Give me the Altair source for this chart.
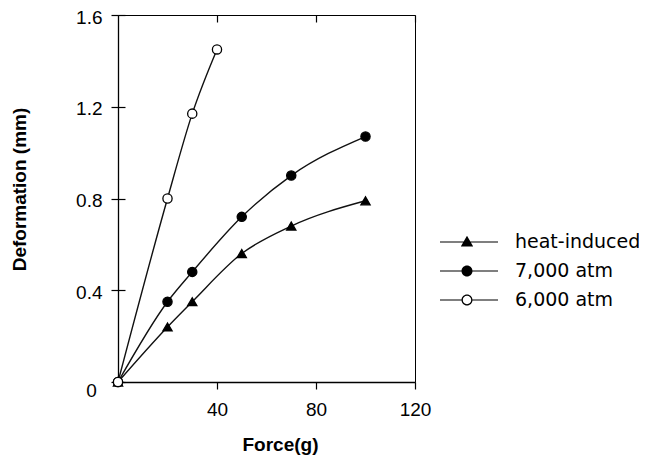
import altair as alt
import pandas as pd

# ---- data ----
series_names = ["heat-induced", "7,000 atm", "6,000 atm"]
force_heat = [0, 20, 30, 50, 70, 100]
deform_heat = [0, 0.24, 0.35, 0.56, 0.68, 0.79]
force_7000 = [0, 20, 30, 50, 70, 100]
deform_7000 = [0, 0.35, 0.48, 0.72, 0.90, 1.07]
force_6000 = [0, 20, 30, 40]
deform_6000 = [0, 0.80, 1.17, 1.45]
x_ticks = [40, 80, 120]
y_ticks = [0, 0.4, 0.8, 1.2, 1.6]

rows = []
for name, fx, dy in [
    (series_names[0], force_heat, deform_heat),
    (series_names[1], force_7000, deform_7000),
    (series_names[2], force_6000, deform_6000),
]:
    for i, (f, d) in enumerate(zip(fx, dy)):
        rows.append({"series": name, "force": f, "deformation": d, "order": i})
df = pd.DataFrame(rows)

# legend symbols: line segment + marker (units scaled by sqrt(size)/2)
line_full = "M-2.7,-0.06H3.1V0.06H-2.7Z"
tri = "M0,-0.62L0.62,0.45L-0.62,0.45Z"
dot = "M0.55,0A0.55,0.55 0 1,1 -0.55,0A0.55,0.55 0 1,1 0.55,0Z"
ring = (
    "M-2.7,-0.06H-0.55V0.06H-2.7Z M0.55,-0.06H3.1V0.06H0.55Z "
    "M0.55,0A0.55,0.55 0 1,1 -0.55,0A0.55,0.55 0 1,1 0.55,0Z "
    "M0.42,0A0.42,0.42 0 1,0 -0.42,0A0.42,0.42 0 1,0 0.42,0Z"
)
legend_paths = [line_full + " " + tri, line_full + " " + dot, ring]

xs = alt.Scale(domain=[0, 120], nice=False)
ys = alt.Scale(domain=[0, 1.6], nice=False)

x_enc = alt.X(
    "force:Q",
    scale=xs,
    axis=alt.Axis(
        values=x_ticks,
        title="Force(g)",
        titleX=162,
        titleY=68,
        titleBaseline="alphabetic",
        titleAlign="center",
        labelPadding=11,
        labelFlush=False,
    ),
)
y_enc = alt.Y(
    "deformation:Q",
    scale=ys,
    axis=alt.Axis(
        values=y_ticks,
        title="Deformation (mm)",
        titleX=-93,
        titleY=174,
        titleAngle=-90,
        titleBaseline="alphabetic",
        titleAlign="center",
        labelFlush=False,
        labelExpr="datum.value == 0 ? '0' : format(datum.value, '.1f')",
        labelAlign={"condition": {"test": "datum.value == 0", "value": "center"}, "value": "right"},
        labelPadding={"condition": {"test": "datum.value == 0", "value": 20}, "value": 9},
        labelOffset={"condition": {"test": "datum.value == 0", "value": 8}, "value": 2},
    ),
)

base = alt.Chart(df)

lines = base.mark_line(color="#111111", strokeWidth=1.4, interpolate="monotone").encode(
    x=x_enc, y=y_enc, detail="series:N", order="order:Q"
)

points = base.mark_point(size=85, stroke="black", strokeWidth=1.3, opacity=1).encode(
    x=x_enc,
    y=y_enc,
    shape=alt.Shape(
        "series:N",
        scale=alt.Scale(domain=series_names, range=["triangle-up", "circle", "circle"]),
        legend=None,
    ),
    fill=alt.Fill(
        "series:N",
        scale=alt.Scale(domain=series_names, range=["black", "black", "white"]),
        legend=None,
    ),
)

legend_layer = base.transform_filter("datum.force < 0").mark_point(
    filled=True, size=400, color="black", opacity=1
).encode(
    x=x_enc,
    y=y_enc,
    shape=alt.Shape(
        "series:N",
        scale=alt.Scale(domain=series_names, range=legend_paths),
        legend=alt.Legend(
            title=None,
            orient="none",
            legendX=339,
            legendY=217,
            symbolSize=400,
            symbolFillColor="black",
            symbolStrokeWidth=0,
            symbolOpacity=1,
            labelOffset=38,
            rowPadding=9,
            padding=0,
            labelFont="DejaVu Sans",
            labelFontSize=19,
            labelColor="black",
        ),
    ),
)

chart = (
    alt.layer(lines, points, legend_layer)
    .resolve_scale(shape="independent")
    .properties(
        width=297,
        height=367,
        autosize=alt.AutoSizeParams(type="none"),
        padding={"left": 110, "top": 7, "right": 224, "bottom": 73},
        background="white",
    )
    .configure_view(stroke="black", strokeWidth=1)
    .configure_axis(
        domainColor="black",
        domainWidth=1.3,
        tickColor="black",
        tickWidth=1.2,
        tickSize=7,
        grid=True,
        gridColor="black",
        gridWidth=1.2,
        gridDash=[7, 2000],
        labelFont="Liberation Sans",
        labelFontSize=19,
        labelColor="black",
        titleFont="Liberation Sans",
        titleFontSize=19,
        titleFontWeight="bold",
        titleColor="black",
    )
)

chart.save("out.html", embed_options={"renderer": "svg", "actions": False})
